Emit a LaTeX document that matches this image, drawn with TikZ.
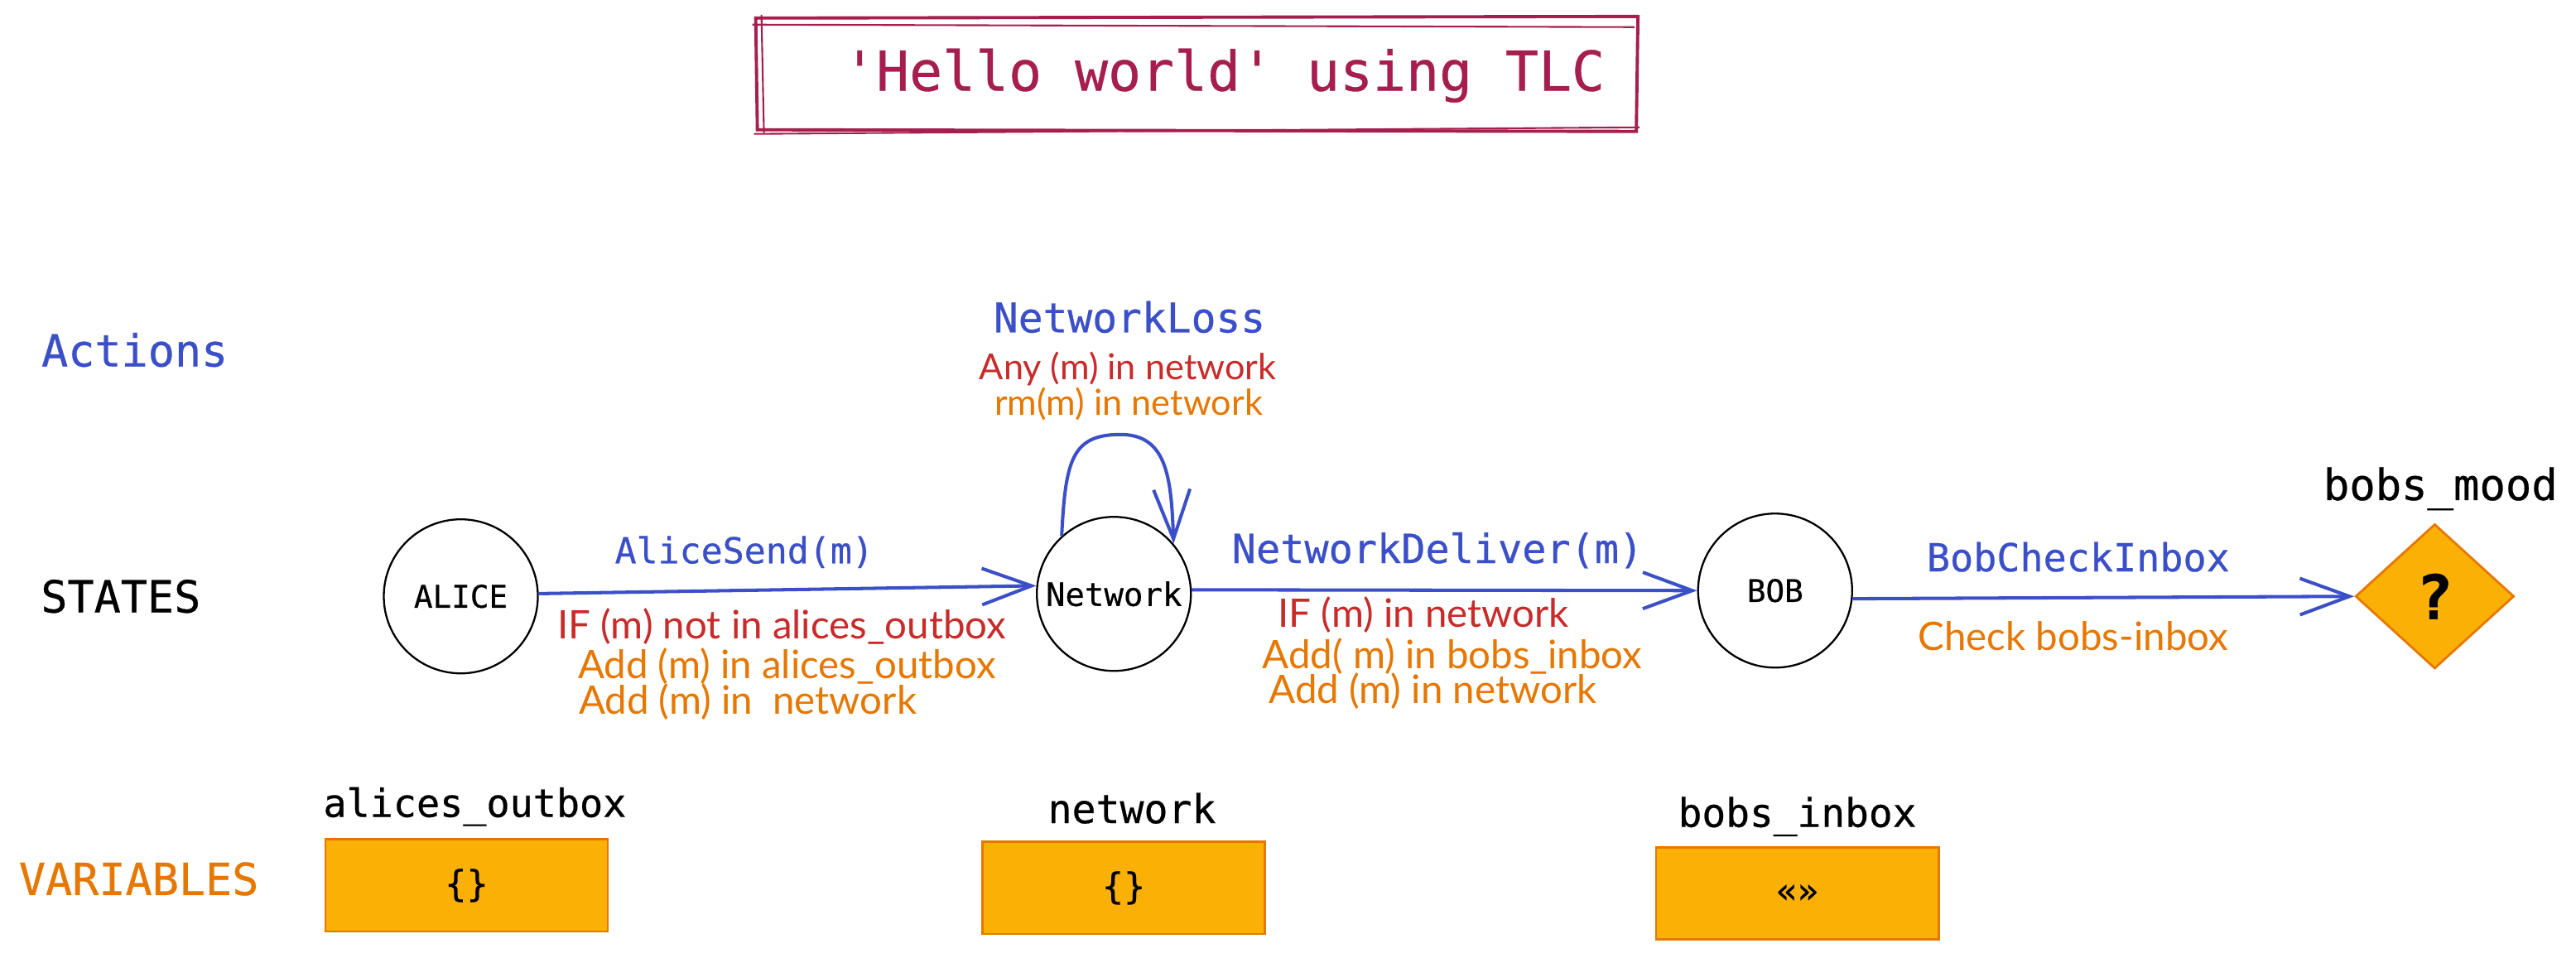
\documentclass[tikz,border=0pt]{standalone}
\usepackage{fontspec}
\setmonofont[FakeBold=0.5]{DejaVu Sans Mono}
\newfontfamily\handfont{Lato}
\usetikzlibrary{arrows.meta,shapes.geometric}
\definecolor{tlcblue}{HTML}{3B4FC8}
\definecolor{tlcred}{HTML}{C92A2A}
\definecolor{tlcorange}{HTML}{E67700}
\definecolor{crimson}{HTML}{A61E4D}
\definecolor{boxfill}{HTML}{FAB005}
\definecolor{boxline}{HTML}{E67700}
\begin{document}
\begin{tikzpicture}[x=0.00992cm,y=-0.00992cm,
  lbl/.style={inner sep=0pt},
  state/.style={circle, draw, line width=0.65pt, minimum size=1.86cm, inner sep=0pt},
  varbox/.style={rectangle, draw=boxline, fill=boxfill, line width=0.8pt, minimum width=3.41cm, minimum height=1.11cm, inner sep=0pt},
  arr/.style={draw=tlcblue, line width=1.15pt, -{Straight Barb[length=17pt,width=12.5pt]}},
  hand/.style={inner sep=0pt, font=\handfont\fontsize{13.5}{16}\selectfont},
  smallhand/.style={inner sep=0pt, font=\handfont\fontsize{12.3}{14}\selectfont}
]
\useasboundingbox (0,0) rectangle (3136,1166);

% title
\node[lbl, text=crimson, font=\ttfamily\fontsize{18.9}{23}\selectfont] (title) at (1490,92) {'Hello world' using TLC};
\draw[crimson, line width=1.1pt] (920,22) -- (1994,20) -- (1992,160) -- (922,158) -- cycle;
\draw[crimson, line width=0.6pt] (916,30) -- (1990,33);
\draw[crimson, line width=0.6pt] (927,18) -- (930,162);
\draw[crimson, line width=0.6pt] (918,163) -- (1996,155);

% row labels
\node[lbl, text=tlcblue, font=\ttfamily\fontsize{15.2}{18}\selectfont] (actions) at (164,426) {Actions};
\node[lbl, font=\ttfamily\fontsize{15.2}{18}\selectfont] (states) at (147,726) {STATES};
\node[lbl, text=tlcorange, font=\ttfamily\fontsize{15.2}{18}\selectfont] (variables) at (169,1070) {VARIABLES};

% states
\node[state, font=\ttfamily\fontsize{10.7}{13}\selectfont] (alice) at (561,726) {ALICE};
\node[state, font=\ttfamily\fontsize{11.1}{13}\selectfont] (net) at (1356,723) {Network};
\node[state, font=\ttfamily\fontsize{10.7}{13}\selectfont] (bob) at (2161,719) {BOB};
\node[diamond, draw=boxline, fill=boxfill, line width=0.8pt, minimum width=1.915cm, minimum height=1.746cm, inner sep=0pt, font=\ttfamily\bfseries\fontsize{21}{25}\selectfont] (mood) at (2964,726) {?};
\node[lbl, font=\ttfamily\fontsize{14.85}{18}\selectfont] (moodlbl) at (2971,595) {bobs\_mood};

% connectors
\draw[arr] (alice.2) -- (net.174);
\draw[arr] (net.3) -- (bob.west);
\draw[arr] (bob.-6) -- (mood.west);
\draw[arr] (net.132) .. controls (1297,560) and (1305,529) .. (1364,529) .. controls (1420,529) and (1426,580) .. (net.40);

% action labels
\node[lbl, text=tlcblue, font=\ttfamily\fontsize{12.3}{15}\selectfont] (l1) at (906,672) {AliceSend(m)};
\node[lbl, text=tlcblue, font=\ttfamily\fontsize{13.8}{16}\selectfont] (l2) at (1750,670) {NetworkDeliver(m)};
\node[lbl, text=tlcblue, font=\ttfamily\fontsize{13.3}{16}\selectfont] (l3) at (2530,678) {BobCheckInbox};
\node[lbl, text=tlcblue, font=\ttfamily\fontsize{14.1}{17}\selectfont] (l4) at (1375,386) {NetworkLoss};

% handwritten notes
\node[hand, text=tlcred, anchor=base west] (a1) at (678,778) {IF (m) not in alices\_outbox};
\node[hand, text=tlcorange, anchor=base west] (a2) at (703,826) {Add (m) in alices\_outbox};
\node[hand, text=tlcorange, anchor=base west] (a3) at (704,869) {Add (m) in\ \ network};
\node[hand, text=tlcred, anchor=base] (d1) at (1733,764) {IF (m) in network};
\node[hand, text=tlcorange, anchor=base west] (d2) at (1536,814) {Add( m) in bobs\_inbox};
\node[hand, text=tlcorange, anchor=base west] (d3) at (1544,856) {Add (m) in network};
\node[smallhand, text=tlcred, anchor=base] (n1) at (1373,462) {Any (m) in network};
\node[smallhand, text=tlcorange, anchor=base] (n2) at (1374,506) {rm(m) in network};
\node[hand, text=tlcorange, anchor=base] (b1) at (2524,792) {Check bobs-inbox};

% variables
\node[varbox, font=\ttfamily\fontsize{12.4}{15}\selectfont] (v1) at (568,1078) {\{\}};
\node[lbl, font=\ttfamily\fontsize{13.3}{16}\selectfont] (v1l) at (578,982) {alices\_outbox};
\node[varbox, font=\ttfamily\fontsize{12.4}{15}\selectfont] (v2) at (1368,1081) {\{\}};
\node[lbl, font=\ttfamily\fontsize{13.7}{16}\selectfont] (v2l) at (1378,984) {network};
\node[varbox, font=\ttfamily\fontsize{12}{15}\selectfont] (v3) at (2188,1088) {«»};
\node[lbl, font=\ttfamily\fontsize{13.6}{16}\selectfont] (v3l) at (2188,994) {bobs\_inbox};
\end{tikzpicture}
\end{document}
